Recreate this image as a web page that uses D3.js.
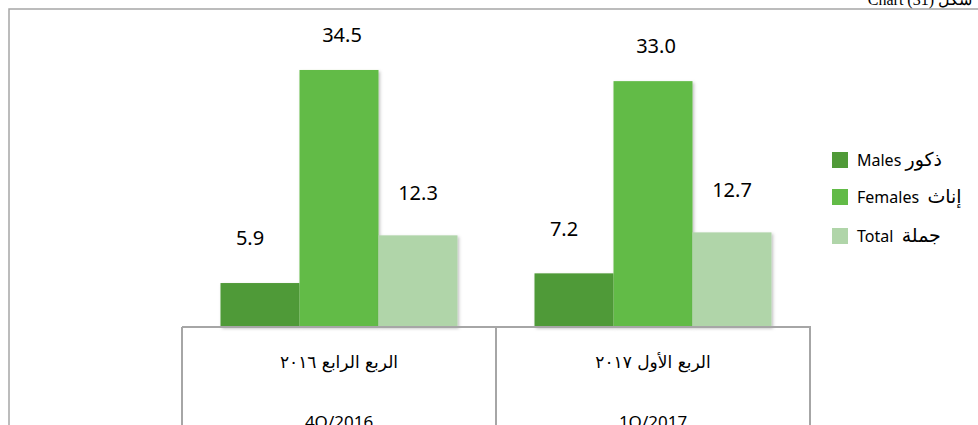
<!DOCTYPE html>
<html>
<head>
<meta charset="utf-8">
<script src="https://cdn.jsdelivr.net/npm/d3@7"></script>
<style>
  html, body { margin: 0; padding: 0; background: #fff; }
  svg { display: block; }
</style>
</head>
<body>
<svg id="chart" width="978" height="425"></svg>
<script>
// Quarters shown along the axis (Arabic and English rows)
const quarters = ["4Q/2016", "1Q/2017"];
const quartersAr = ["الربع الرابع ٢٠١٦", "الربع الأول ٢٠١٧"];

// Series (percent)
const seriesNames = ["Males", "Females", "Total"];
const seriesNamesAr = ["ذكور", "إناث", "جملة"];
const males = [5.9, 7.2];
const females = [34.5, 33.0];
const total = [12.3, 12.7];

const seriesColors = ["#509a38", "#62bb47", "#b0d5a9"];
// nudges for value labels, per series
const labelNudge = [{dx: -10, dy: 45}, {dx: 3, dy: 35}, {dx: 0, dy: 43}];

const svg = d3.select("#chart");
const W = 978, H = 425;
const gridColor = "#a6a6a6";

// drop shadow for bars
const defs = svg.append("defs");
const f = defs.append("filter").attr("id", "shadow")
  .attr("x", "-10%").attr("y", "-10%").attr("width", "130%").attr("height", "130%");
f.append("feDropShadow").attr("dx", 1.5).attr("dy", 1.5)
  .attr("stdDeviation", 1.5).attr("flood-color", "#000").attr("flood-opacity", 0.25);

// outer frame
svg.append("path")
  .attr("d", `M9,${H} L9,9 L${W},9`)
  .attr("fill", "none").attr("stroke", gridColor).attr("stroke-width", 1.5);

// caption at top right
svg.append("text")
  .attr("x", 972).attr("y", 5)
  .attr("text-anchor", "end")
  .attr("font-family", "'Liberation Serif', 'DejaVu Serif', serif")
  .attr("font-size", 16)
  .attr("fill", "#000")
  .text("Chart (31) شكل");

const x0 = d3.scaleBand().domain(quarters).range([182, 810]).paddingInner(0).paddingOuter(0);
const x1 = d3.scaleBand().domain(seriesNames).range([38.5, x0.bandwidth() - 38.5]).padding(0);
const y = d3.scaleLinear().domain([0, 40]).range([327, 29]);

const data = quarters.map((q, i) => ({
  q, ar: quartersAr[i],
  values: [males[i], females[i], total[i]]
}));

// bars
const groups = svg.append("g").selectAll("g").data(data).join("g")
  .attr("transform", d => `translate(${x0(d.q)},0)`);

groups.selectAll("rect")
  .data(d => d.values.map((v, j) => ({v, j, name: seriesNames[j]})))
  .join("rect")
  .attr("x", d => x1(d.name))
  .attr("y", d => y(d.v))
  .attr("width", x1.bandwidth())
  .attr("height", d => y(0) - y(d.v))
  .attr("fill", d => seriesColors[d.j])
  .attr("filter", "url(#shadow)");

// value labels
groups.selectAll("text.val")
  .data(d => d.values.map((v, j) => ({v, j, name: seriesNames[j]})))
  .join("text")
  .attr("class", "val")
  .attr("x", d => x1(d.name) + x1.bandwidth() / 2 + labelNudge[d.j].dx)
  .attr("y", d => y(d.v) - labelNudge[d.j].dy)
  .attr("dy", "0.36em")
  .attr("text-anchor", "middle")
  .attr("font-family", "'Noto Sans', 'Open Sans', sans-serif")
  .attr("font-size", 20)
  .attr("fill", "#000")
  .text(d => d.v.toFixed(1));

// category table: baseline and dividers
const axis = svg.append("g").attr("stroke", gridColor).attr("stroke-width", 2);
axis.append("line").attr("x1", 182).attr("x2", 811).attr("y1", y(0)).attr("y2", y(0));
const edges = [...quarters.map(q => x0(q)), x0(quarters[quarters.length - 1]) + x0.bandwidth()];
axis.selectAll("line.div").data(edges).join("line").attr("class", "div")
  .attr("x1", d => d).attr("x2", d => d)
  .attr("y1", y(0)).attr("y2", H);

// category labels
const cat = svg.append("g").selectAll("g").data(data).join("g")
  .attr("transform", d => `translate(${x0(d.q) + x0.bandwidth() / 2},0)`);
cat.append("text")
  .attr("y", 368)
  .attr("text-anchor", "middle")
  .attr("direction", "rtl")
  .attr("font-family", "'DejaVu Sans', sans-serif")
  .attr("font-size", 17)
  .attr("fill", "#000")
  .text(d => d.ar);
cat.append("text")
  .attr("y", 428)
  .attr("text-anchor", "middle")
  .attr("font-family", "'Noto Sans', 'Open Sans', sans-serif")
  .attr("font-size", 17)
  .attr("fill", "#000")
  .text(d => d.q);

// legend
const legendY = [152, 189, 228];
const legend = svg.append("g").selectAll("g").data(seriesNames).join("g")
  .attr("transform", (d, i) => `translate(832,${legendY[i]})`);
legend.append("rect")
  .attr("width", 16).attr("height", 16)
  .attr("fill", (d, i) => seriesColors[i]);
const lt = legend.append("text")
  .attr("x", 25).attr("y", 8).attr("dy", "0.36em")
  .attr("font-family", "'Noto Sans', 'DejaVu Sans', sans-serif")
  .attr("font-size", 16)
  .attr("fill", "#000")
  .style("white-space", "pre");
lt.append("tspan").text((d, i) => d + (i === 0 ? " " : "  "));
lt.append("tspan")
  .attr("font-family", "'DejaVu Sans', sans-serif")
  .attr("font-size", 19)
  .text((d, i) => seriesNamesAr[i]);
</script>
</body>
</html>
